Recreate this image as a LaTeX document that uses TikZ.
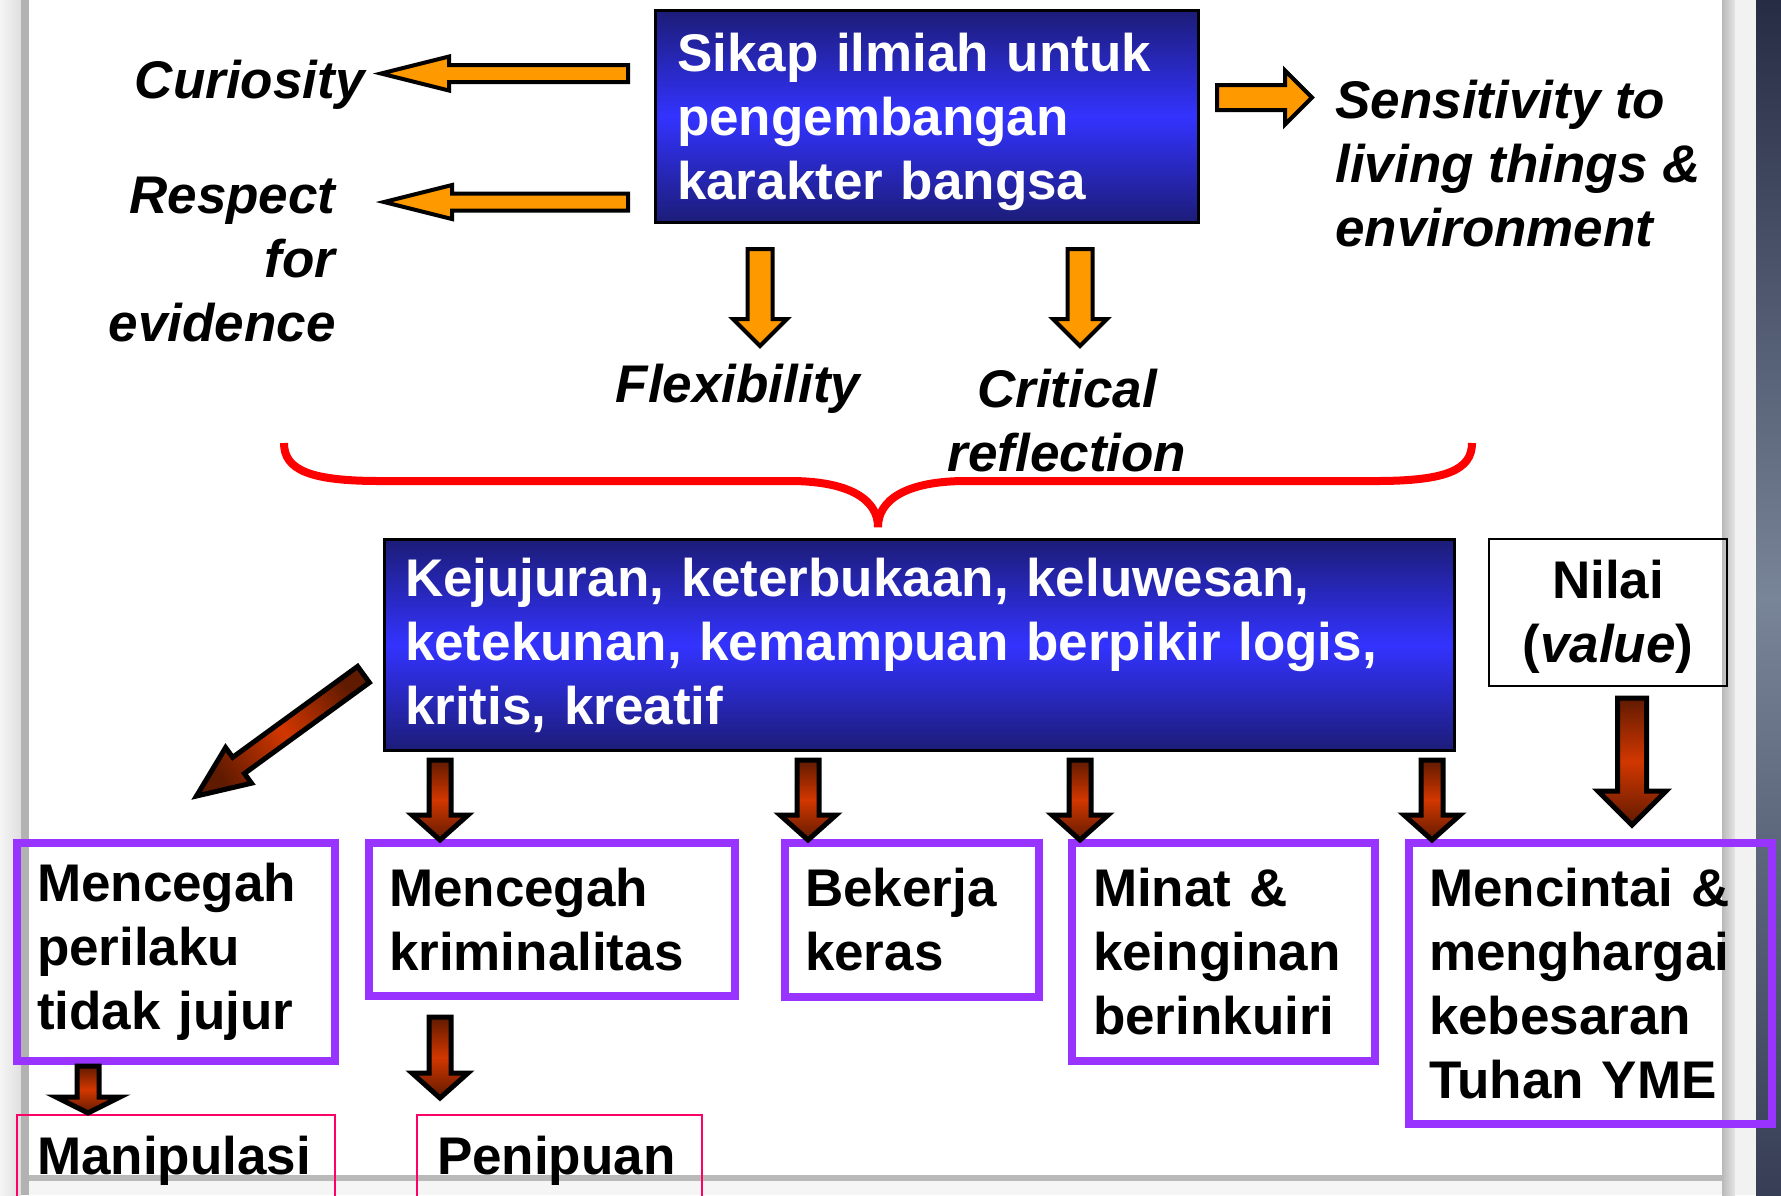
\documentclass[tikz,border=0pt]{standalone}
\usepackage{fontspec}
\setmainfont{Liberation Sans}
\usetikzlibrary{calc}
\definecolor{navy}{RGB}{28,28,120}
\definecolor{brightblue}{RGB}{51,51,255}
\definecolor{arroworange}{RGB}{255,153,0}
\definecolor{rustdark}{RGB}{96,26,0}
\definecolor{rustlight}{RGB}{210,55,0}
\definecolor{violetline}{RGB}{153,51,255}
\definecolor{pinkline}{RGB}{255,0,102}
\definecolor{bracered}{RGB}{255,0,0}
\definecolor{seadark}{RGB}{38,44,68}
\definecolor{sealight}{RGB}{120,132,152}
\tikzset{
  fat shaft/.store in=\fatS, fat head/.store in=\fatH, fat tip/.store in=\fatL,
  fat shaft=5pt, fat head=12pt, fat tip=12pt,
  fat/.style={to path={let \p1=(\tikztostart), \p2=(\tikztotarget), \n1={atan2(\y2-\y1,\x2-\x1)} in
    ($(\p1)+(\n1+90:\fatS)$) -- ($(\p2)+(\n1+180:\fatL)+(\n1+90:\fatS)$) -- ($(\p2)+(\n1+180:\fatL)+(\n1+90:\fatH)$) -- (\p2)
    -- ($(\p2)+(\n1+180:\fatL)+(\n1-90:\fatH)$) -- ($(\p2)+(\n1+180:\fatL)+(\n1-90:\fatS)$) -- ($(\p1)+(\n1-90:\fatS)$) -- cycle}},
  orangefat/.style={fat, draw=black, fill=arroworange, line width=2pt, line join=miter},
  redfat/.style={fat, draw=black, line width=2.5pt, line join=miter, top color=rustdark, bottom color=rustdark, middle color=rustlight},
  bigtxt/.style={font=\fontsize{26.5}{32}\selectfont\bfseries},
  slanttxt/.style={font=\fontsize{26.5}{32}\selectfont\bfseries\itshape, inner sep=0pt},
  bluebox/.style={bigtxt, draw=black, line width=1.5pt, text=white, align=left, top color=navy, bottom color=navy, middle color=brightblue, inner ysep=0pt},
  purplebox/.style={bigtxt, draw=violetline, line width=4pt, align=left, inner xsep=10pt, inner ysep=0pt},
  pinkbox/.style={bigtxt, draw=pinkline, line width=1pt, align=left, anchor=north west, inner xsep=10pt, inner ysep=10.5pt, text height=19pt, text depth=60pt}
}
\begin{document}
\begin{tikzpicture}[x=0.5pt, y=-0.5pt]
\useasboundingbox (0,0) rectangle (1781,1195);
\clip (0,0) rectangle (1781,1195);
\fill[white] (0,0) rectangle (1781,1195);
\shade[left color=gray!8, right color=gray!25] (0,0) rectangle (21,1195);
\fill[gray!60] (21,0) rectangle (29,1195);
\shade[left color=gray!55, right color=gray!20] (1722,0) rectangle (1735,1195);
\fill[gray!10] (1735,0) rectangle (1756,1195);
\shade[top color=seadark, bottom color=seadark!80!sealight, middle color=sealight] (1756,0) rectangle (1781,1195);
\fill[gray!55] (29,1175) rectangle (1722,1181);
\fill[gray!8] (29,1181) rectangle (1722,1195);

\node[bluebox, minimum width=271.5pt, minimum height=106pt, text width=250pt, inner xsep=10.75pt] (attitude) at (927,116.5) {\rule{0pt}{25pt}Sikap ilmiah untuk\\pengembangan\\karakter bangsa};
\node[bluebox, minimum width=535pt, minimum height=105.5pt, text width=514.5pt, inner xsep=10.25pt] (values) at (919.5,645) {Kejujuran, keterbukaan, keluwesan,\\ketekunan, kemampuan berpikir logis,\\kritis, kreatif};
\node[bigtxt, draw=black, line width=1pt, align=center, minimum width=119pt, minimum height=73.5pt, inner sep=0pt] (nilai) at (1608,612.5) {\rule{0pt}{23.5pt}Nilai\\(\textit{value})};

\node[slanttxt, anchor=base east] (curi) at (365,98) {Curiosity};
\node[slanttxt, anchor=north east, align=right] (resp) at (336,177) {Respect\\for\\evidence};
\node[slanttxt, anchor=north west, align=left] (sens) at (1335,80) {Sensitivity to\\living things \&\\environment};
\node[slanttxt, anchor=base] (flex) at (738,402) {Flexibility};
\node[slanttxt, anchor=north, align=center] (crit) at (1067,369) {Critical\\reflection};

\node[purplebox, minimum width=159pt, minimum height=109pt, text width=139pt] (pA) at (176,952) {Mencegah\\perilaku\\tidak jujur};
\node[purplebox, minimum width=183pt, minimum height=76.5pt, text width=163pt] (pB) at (552,919.5) {Mencegah\\kriminalitas};
\node[purplebox, minimum width=127pt, minimum height=77pt, text width=107pt] (pC) at (912,920) {Bekerja\\keras};
\node[purplebox, minimum width=151.5pt, minimum height=109pt, text width=130.5pt, inner xsep=10.5pt] (pD) at (1223.5,952) {Minat \&\\keinginan\\berinkuiri};
\node[purplebox, minimum width=181.5pt, minimum height=140.5pt, text width=161.5pt] (pE) at (1590.5,983.5) {Mencintai \&\\menghargai\\kebesaran\\Tuhan YME};
\node[pinkbox, text width=139pt] (manip) at (16,1114) {Manipulasi};
\node[pinkbox, text width=122.5pt] (penip) at (416,1114) {Penipuan};

\draw[orangefat, fat shaft=4.25pt, fat head=8.5pt, fat tip=34pt] ($(attitude.north west)+(-26,64.5)$) to ($(curi.base east)+(16,-24.5)$);
\draw[orangefat, fat shaft=4.25pt, fat head=8.5pt, fat tip=34pt] ($(attitude.north west)+(-26,193)$) to ($(resp.north east)+(48,25)$);
\draw[orangefat, fat shaft=6.25pt, fat head=13.5pt, fat tip=13.5pt] ($(attitude.north east)+(17,88.5)$) to ($(sens.north west)+(-23,17.5)$);
\draw[orangefat, fat shaft=6.25pt, fat head=13.5pt, fat tip=13.5pt] ($(attitude.south west)+(106,25)$) to ($(flex.base)+(22,-56)$);
\draw[orangefat, fat shaft=6.25pt, fat head=13.5pt, fat tip=13.5pt] ($(attitude.south west)+(426,25)$) to ($(crit.north)+(13,-23)$);

\draw[bracered, line width=4pt] (284,443) .. controls (284,470) and (310,481) .. (380,481) -- (790,481) .. controls (850,481) and (878,500) .. (878,527) .. controls (878,500) and (906,481) .. (966,481) -- (1376,481) .. controls (1446,481) and (1472,470) .. (1472,443);

\draw[redfat, fat shaft=5pt, fat head=11pt, fat tip=26pt, shading angle=-54] ($(values.west)+(-19.5,29.5)$) to ($(pA.north west)+(183.5,-43)$);
\foreach \dx/\tgt/\off in {57/pB/75, 425/pC/27, 697/pD/12, 1049/pE/27}
  \draw[redfat, fat shaft=5.5pt, fat head=14pt, fat tip=12.5pt] ($(values.south west)+(\dx,8)$) to ($(\tgt.north west)+(\off,1)$);
\draw[redfat, fat shaft=7.25pt, fat head=17pt, fat tip=17pt] ($(nilai.south)+(24,11)$) to ($(pE.north west)+(227,-14)$);
\draw[redfat, fat shaft=5.5pt, fat head=16pt, fat tip=8pt] ($(pA.south west)+(75,1)$) to ($(manip.north west)+(72,-1)$);
\draw[redfat, fat shaft=5.5pt, fat head=14pt, fat tip=12.5pt] ($(pB.south west)+(75,17)$) to ($(penip.north west)+(24,-16)$);
\end{tikzpicture}
\end{document}
